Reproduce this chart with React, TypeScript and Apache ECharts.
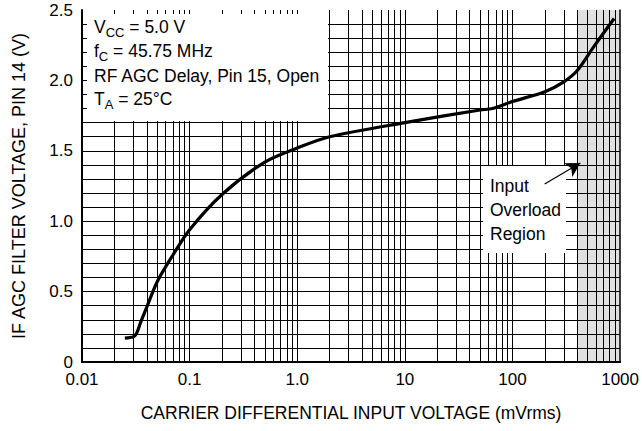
import React, { useEffect, useRef } from "react";
import * as echarts from "echarts";

const curveX = [0.025, 0.03, 0.032, 0.035, 0.04, 0.05, 0.07, 0.1, 0.2, 0.5, 1.0, 2.0, 10, 50, 65, 100, 200, 300, 400, 570, 880];
const curveY = [0.17, 0.18, 0.2, 0.28, 0.39, 0.57, 0.76, 0.94, 1.19, 1.42, 1.52, 1.6, 1.7, 1.79, 1.8, 1.85, 1.92, 1.99, 2.07, 2.24, 2.44];
const xTickLabels = ["0.01", "0.1", "1.0", "10", "100", "1000"];
const decades = [0.01, 0.1, 1, 10, 100];
const multipliers = [1, 2, 3, 4, 5, 6, 7, 8, 9];
const yGridValues = [0.1, 0.2, 0.3, 0.4, 0.5, 0.6, 0.7, 0.8, 0.9, 1.0, 1.1, 1.2, 1.3, 1.4, 1.5, 1.6, 1.7, 1.8, 1.9, 2.0, 2.1, 2.2, 2.3, 2.4];
const overloadRange = [400, 1000];
const arrowFrom = [199, 1.264];
const arrowTo = [427, 1.413];

const FONT = "'Liberation Sans', Arial, sans-serif";

export default function App() {
  const ref = useRef<HTMLDivElement>(null);
  useEffect(() => {
    if (!ref.current) return;
    const chart = echarts.init(ref.current, null, { renderer: "svg" });
    const vLines: number[] = [];
    decades.forEach((d) => multipliers.forEach((m) => {
      const v = +(d * m).toPrecision(3);
      if (v > 0.01) vLines.push(v);
    }));
    const gridColor = "#000";
    const curveData = curveX.map((x, i) => [x, curveY[i]]);
    const textBase = { fill: "#000", fontSize: 17.5, fontFamily: FONT };
    const subRich = {
      b: { ...textBase, lineHeight: 24, verticalAlign: "middle" },
      s: { ...textBase, fontSize: 13, lineHeight: 14, verticalAlign: "bottom" },
    };
    const option: any = {
      animation: false,
      backgroundColor: "#fff",
      grid: { left: 82, right: 19, top: 10, bottom: 69 },
      xAxis: [
        {
          type: "log", logBase: 10, min: 0.01, max: 1000, z: 10,
          axisLine: { show: true, lineStyle: { color: "#000", width: 2 } },
          axisTick: { show: false },
          splitLine: { show: false },
          minorTick: { show: false },
          axisLabel: {
            color: "#000", fontSize: 17, fontFamily: FONT, margin: 10, lineHeight: 15,
            formatter: (v: number) => xTickLabels[Math.round(Math.log10(v)) + 2] ?? "",
          },
          name: "CARRIER DIFFERENTIAL INPUT VOLTAGE (mVrms)",
          nameLocation: "middle", nameGap: 42,
          nameTextStyle: { color: "#000", fontSize: 17.5, fontFamily: FONT },
        },
        {
          type: "log", logBase: 10, min: 0.01, max: 1000, position: "top", z: 10,
          axisLine: { show: true, lineStyle: { color: "#000", width: 1 } },
          axisTick: { show: false }, axisLabel: { show: false }, splitLine: { show: false },
        },
      ],
      yAxis: [
        {
          type: "value", min: 0, max: 2.5, interval: 0.1, z: 10,
          axisLine: { show: true, lineStyle: { color: "#000", width: 2 } },
          axisTick: { show: false },
          splitLine: { show: false },
          axisLabel: {
            color: "#000", fontSize: 17, fontFamily: FONT, margin: 9, lineHeight: 14,
            formatter: (v: number) => {
              const r = Math.round(v * 10);
              if (r % 5 !== 0) return "";
              return r === 0 ? "0" : (r / 10).toFixed(1);
            },
          },
          name: "IF AGC FILTER VOLTAGE, PIN 14 (V)",
          nameLocation: "middle", nameGap: 54,
          nameTextStyle: { color: "#000", fontSize: 18, fontFamily: FONT },
        },
        {
          type: "value", min: 0, max: 2.5, interval: 0.5, position: "right", z: 10,
          axisLine: { show: true, lineStyle: { color: "#000", width: 1.5 } },
          axisTick: { show: false }, axisLabel: { show: false }, splitLine: { show: false },
        },
      ],
      series: [
        {
          type: "line", z: 1, data: curveData, showSymbol: false, symbol: "none",
          lineStyle: { width: 0, opacity: 0 }, silent: true,
          markArea: {
            z: 1,
            silent: true,
            itemStyle: { color: "#e0e0e0" },
            data: [[{ xAxis: overloadRange[0] }, { xAxis: overloadRange[1] }]],
          },
        },
        {
          type: "line", z: 2, data: curveData, showSymbol: false, symbol: "none",
          lineStyle: { width: 0, opacity: 0 }, silent: true,
          markLine: {
            z: 2,
            silent: true, symbol: "none", animation: false,
            label: { show: false },
            lineStyle: { color: gridColor, width: 1, type: "solid", opacity: 1 },
            data: [
              ...vLines.map((v) => ({ xAxis: v })),
              ...yGridValues.map((v) => ({ yAxis: v })),
            ],
          },
        },
        {
          type: "line", z: 5, data: curveData, smooth: 0.3, showSymbol: false, symbol: "none",
          lineStyle: { color: "#000", width: 3.2 },
          markLine: {
            z: 6,
            silent: true, symbol: ["none", "arrow"], symbolSize: [12, 14],
            label: { show: false },
            lineStyle: { color: "#000", width: 1.2, type: "solid" },
            data: [[{ coord: arrowFrom }, { coord: arrowTo }]],
          },
        },
      ],
      graphic: [
        { type: "rect", z: 3, shape: { x: 87, y: 14, width: 241, height: 107 }, style: { fill: "#fff" } },
        { type: "rect", z: 3, shape: { x: 483, y: 166, width: 83, height: 87 }, style: { fill: "#fff" } },
        { type: "text", z: 4, x: 94, y: 27, style: { text: "{b|V}{s|CC}{b| = 5.0 V}", verticalAlign: "middle", rich: subRich } },
        { type: "text", z: 4, x: 94, y: 51, style: { text: "{b|f}{s|C}{b| = 45.75 MHz}", verticalAlign: "middle", rich: subRich } },
        { type: "text", z: 4, x: 94, y: 76, style: { ...textBase, text: "RF AGC Delay, Pin 15, Open", verticalAlign: "middle" } },
        { type: "text", z: 4, x: 94, y: 99, style: { text: "{b|T}{s|A}{b| = 25°C}", verticalAlign: "middle", rich: subRich } },
        { type: "text", z: 4, x: 490, y: 186, style: { ...textBase, text: "Input", verticalAlign: "middle" } },
        { type: "text", z: 4, x: 490, y: 210, style: { ...textBase, text: "Overload", verticalAlign: "middle" } },
        { type: "text", z: 4, x: 490, y: 234, style: { ...textBase, text: "Region", verticalAlign: "middle" } },
      ],
    };
    chart.setOption(option);
    return () => chart.dispose();
  }, []);
  return <div ref={ref} style={{ width: 642, height: 431, position: "absolute", left: 0, top: 0 }} />;
}
